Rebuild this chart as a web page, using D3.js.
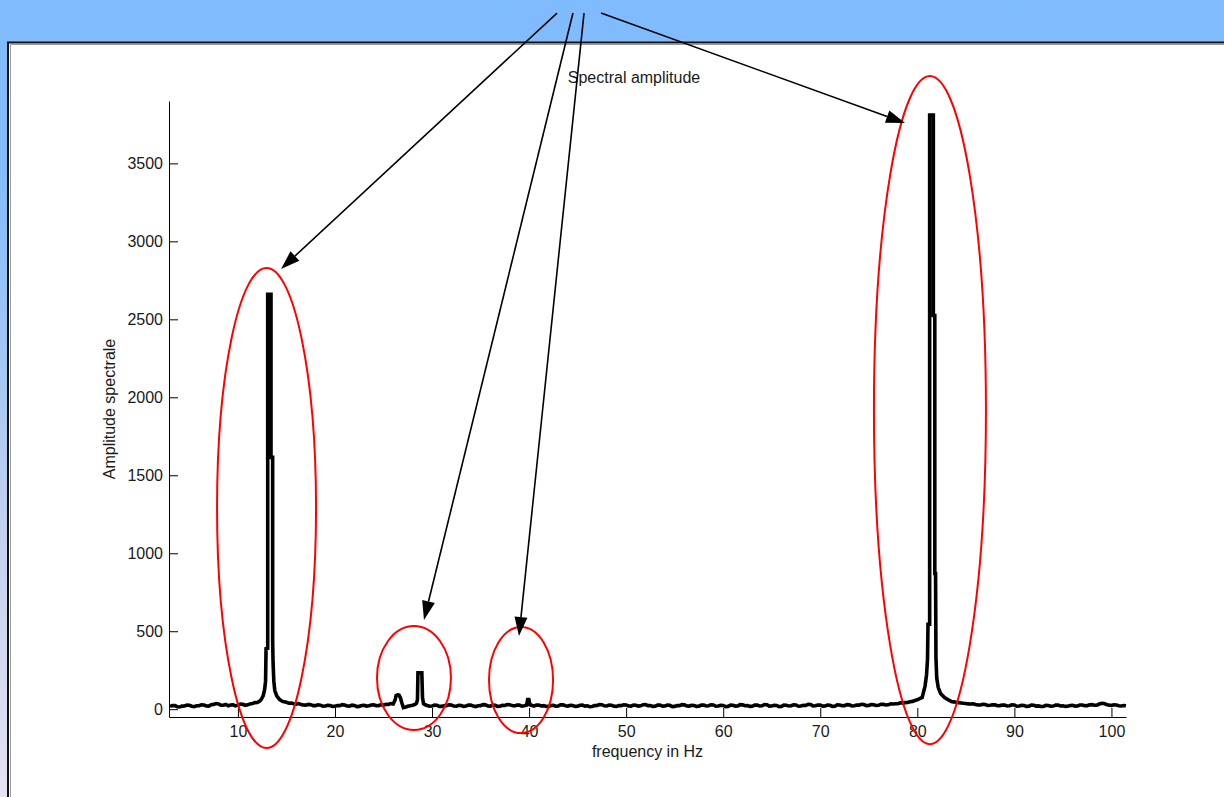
<!DOCTYPE html>
<html>
<head>
<meta charset="utf-8">
<script src="https://cdn.jsdelivr.net/npm/d3@7"></script>
<style>
  html, body { margin: 0; padding: 0; overflow: hidden; background: #fff; }
  svg { display: block; }
</style>
</head>
<body>
<svg id="chart" width="1224" height="797"></svg>
<script>
// ---- data -------------------------------------------------------------
// Spectrum read on a 0.25 Hz grid starting at 3 Hz (one row per hertz)
const gridStartHz = 3;
const gridStepHz = 0.25;
const gridAmplitude = [
  18, 24, 23, 16,   14, 20, 21, 27,   25, 19, 16, 22,   22, 28, 27, 21,   // 3 - 6
  20, 29, 31, 36,   34, 26, 25, 30,   22, 27, 28, 21,   26, 33, 31, 25,   // 7 - 10
  28, 34, 36, 42,   43, 52, 60, 75,   300, 2000, 180, 120,  72, 60, 52, 48, // 11 - 14
  44, 38, 40, 35,   33, 36, 30, 27,   26, 31, 29, 23,   23, 28, 26, 19,   // 15 - 18
  20, 25, 24, 18,   19, 24, 23, 29,   27, 21, 20, 26,   24, 17, 18, 24,   // 19 - 22
  25, 20, 22, 27,   28, 22, 23, 29,   26, 31, 30, 36,   33, 50, 90, 70,   // 23 - 26
  12, 15, 19, 22,   25, 31, 40, 232,  232, 30, 24, 19,  20, 27, 26, 18,   // 27 - 30
  18, 23, 22, 28,   27, 20, 19, 25,   24, 18, 21, 27,   26, 20, 17, 22,   // 31 - 34
  23, 29, 28, 21,   20, 26, 25, 18,   19, 25, 24, 30,   29, 23, 21, 27,   // 35 - 38
  26, 20, 22, 60,   60, 25, 20, 26,   27, 21, 23, 17,   18, 24, 25, 19,   // 39 - 42
  21, 28, 28, 22,   20, 25, 24, 18,   19, 25, 26, 20,   22, 16, 17, 23,   // 43 - 46
  24, 30, 29, 22,   21, 26, 25, 19,   18, 24, 23, 28,   27, 21, 20, 26,   // 47 - 50
  25, 20, 22, 29,   30, 23, 24, 18,   19, 26, 26, 20,   21, 27, 25, 17,   // 51 - 54
  18, 24, 23, 29,   28, 21, 20, 25,   24, 18, 19, 26,   26, 21, 22, 28,   // 55 - 58
  27, 19, 20, 25,   24, 17, 18, 26,   25, 20, 21, 29,   28, 22, 23, 18,   // 59 - 62
  19, 27, 26, 21,   22, 30, 29, 20,   21, 25, 24, 17,   18, 26, 25, 21,   // 63 - 66
  22, 28, 27, 19,   20, 25, 24, 31,   30, 21, 22, 27,   26, 20, 21, 27,   // 67 - 70
  25, 18, 19, 28,   27, 22, 23, 29,   28, 21, 22, 27,   26, 31, 30, 23,   // 71 - 74
  24, 30, 29, 24,   25, 32, 31, 27,   28, 34, 33, 35,   35, 41, 39, 42,   // 75 - 78
  43, 48, 50, 56,   60, 68, 75, 90,   300, 545, 3000, 870,  130, 100, 80, 70, // 79 - 82
  60, 56, 50, 47,   44, 42, 40, 38,   37, 34, 33, 35,   30, 28, 27, 31,   // 83 - 86
  30, 24, 25, 28,   28, 22, 23, 27,   26, 21, 22, 28,   27, 19, 20, 25,   // 87 - 90
  24, 18, 19, 26,   25, 20, 21, 17,   18, 25, 24, 19,   20, 27, 26, 21,   // 91 - 94
  22, 18, 19, 24,   25, 20, 21, 27,   27, 22, 23, 28,   29, 25, 26, 33,   // 95 - 98
  38, 36, 30, 26,   24, 28, 27, 22,   21, 24, 22                          // 99 - 101.5
];

// Finer samples [Hz, amplitude] around each peak
const peak13Hz = [
  [12.4, 62], [12.6, 85], [12.75, 125], [12.85, 180], [12.9, 388], [13.07, 390],
  [13.07, 2660], [13.41, 2660], [13.41, 1615], [13.58, 1615], [13.58, 441],
  [13.62, 300], [13.7, 180], [13.8, 120], [14.0, 85], [14.3, 62], [14.6, 50]
];
const peak27Hz = [
  [26.2, 60], [26.3, 88], [26.45, 92], [26.6, 90], [26.75, 72], [26.9, 38], [27.05, 10], [27.3, 14]
];
const peak29Hz = [
  [28.4, 38], [28.5, 60], [28.55, 234], [28.95, 234], [29.02, 75], [29.12, 35]
];
const peak40Hz = [
  [39.75, 26], [39.85, 62], [39.98, 62], [40.1, 28]
];
const peak81Hz = [
  [80.6, 100], [80.8, 150], [80.95, 220], [81.05, 320], [81.1, 545], [81.27, 545],
  [81.27, 3810], [81.65, 3810], [81.65, 2525], [81.8, 2525], [81.8, 870], [81.88, 870],
  [81.92, 330], [82.0, 200], [82.15, 140], [82.4, 100], [82.8, 75], [83.3, 56]
];

const xTicks = [10, 20, 30, 40, 50, 60, 70, 80, 90, 100];
const yTicks = [0, 500, 1000, 1500, 2000, 2500, 3000, 3500];
const xDomain = [2.9, 101.5];
const yDomain = [-50, 3900];

const titleText = "Spectral amplitude";
const xLabelText = "frequency in Hz";
const yLabelText = "Amplitude spectrale";

// Highlighted regions: centre [Hz, amplitude] and half-extent [Hz, amplitude]
const highlightCentres = [[12.95, 1290], [28.14, 200], [39.17, 187], [81.3, 1918]];
const highlightRadii   = [[5.1, 1539], [3.81, 333], [3.3, 340], [5.77, 2142]];

// Callout arrows: tail and head in [Hz, amplitude]
const calloutTails = [[42.88, 4464], [44.52, 4464], [45.66, 4464], [47.41, 4464]];
const calloutHeads = [[14.44, 2823], [29.17, 572], [38.96, 469], [78.73, 3759]];

// ---- layout -----------------------------------------------------------
const W = 1224, H = 797;
const plot = { left: 169, right: 1126, top: 101, bottom: 717 };
const FONT = "'Liberation Sans', Arial, Helvetica, sans-serif";
const TEXT = "#1a1a1a";

const svg = d3.select("#chart");

// page background
const defs = svg.append("defs");
const grad = defs.append("linearGradient")
  .attr("id", "pageBg").attr("x1", 0).attr("y1", 0).attr("x2", 0).attr("y2", 1);
[["0%", "#7fbbff"], ["25%", "#86bdfb"], ["65%", "#c0d0ee"], ["100%", "#e6e1f3"]]
  .forEach(([o, c]) => grad.append("stop").attr("offset", o).attr("stop-color", c));
svg.append("rect").attr("width", W).attr("height", H).attr("fill", "url(#pageBg)");

// white figure panel
svg.append("rect")
  .attr("x", 8).attr("y", 42.5).attr("width", W).attr("height", H)
  .attr("fill", "#fff").attr("stroke", "#111").attr("stroke-width", 2);
svg.append("path")
  .attr("d", `M10.5,${H} V44.5 H${W}`)
  .attr("fill", "none").attr("stroke", "#9a9a9a").attr("stroke-width", 1);

// scales
const x = d3.scaleLinear().domain(xDomain).range([plot.left, plot.right]);
const y = d3.scaleLinear().domain(yDomain).range([plot.bottom, plot.top]);

// assemble the spectrum: grid samples outside the peak windows + fine peak samples
const peakGroups = [peak13Hz, peak27Hz, peak29Hz, peak40Hz, peak81Hz];
const windows = peakGroups.map(p => [p[0][0], p[p.length - 1][0]]);
const spectrum = [];
gridAmplitude.forEach((a, i) => {
  const f = gridStartHz + i * gridStepHz;
  if (!windows.some(([lo, hi]) => f >= lo && f <= hi)) spectrum.push([f, a]);
});
peakGroups.forEach(p => spectrum.push(...p));
spectrum.sort((a, b) => a[0] - b[0]);

// axes (MATLAB style: ticks pointing inward, no box)
const xAxis = d3.axisBottom(x).tickValues(xTicks).tickFormat(d3.format("d"))
  .tickSizeInner(-9).tickSizeOuter(0).tickPadding(9);
const yAxis = d3.axisLeft(y).tickValues(yTicks).tickFormat(d3.format("d"))
  .tickSizeInner(-9).tickSizeOuter(0).tickPadding(6);

const gx = svg.append("g").attr("transform", `translate(0,${plot.bottom})`).call(xAxis);
const gy = svg.append("g").attr("transform", `translate(${plot.left},0)`).call(yAxis);
[gx, gy].forEach(g => {
  g.selectAll("path, line").attr("stroke", "#000").attr("stroke-width", 1);
  g.selectAll("text").attr("fill", TEXT).style("font-family", FONT).style("font-size", "16px");
});

// spectrum line
svg.append("path")
  .datum(spectrum)
  .attr("fill", "none")
  .attr("stroke", "#000")
  .attr("stroke-width", 3.6)
  .attr("stroke-linejoin", "miter")
  .attr("stroke-miterlimit", 2)
  .attr("d", d3.line().x(d => x(d[0])).y(d => y(d[1])));

// titles
svg.append("text")
  .attr("x", 634).attr("y", 82.5).attr("text-anchor", "middle")
  .attr("fill", TEXT).style("font-family", FONT).style("font-size", "16px")
  .text(titleText);
svg.append("text")
  .attr("x", (plot.left + plot.right) / 2).attr("y", 757).attr("text-anchor", "middle")
  .attr("fill", TEXT).style("font-family", FONT).style("font-size", "16px")
  .text(xLabelText);
svg.append("text")
  .attr("transform", `translate(115,${(plot.top + plot.bottom) / 2}) rotate(-90)`)
  .attr("text-anchor", "middle")
  .attr("fill", TEXT).style("font-family", FONT).style("font-size", "16px")
  .text(yLabelText);

// red highlight ellipses
svg.append("g").selectAll("ellipse")
  .data(highlightCentres.map((c, i) => ({ c, r: highlightRadii[i] })))
  .join("ellipse")
  .attr("cx", d => x(d.c[0]))
  .attr("cy", d => y(d.c[1]))
  .attr("rx", d => x(d.c[0] + d.r[0]) - x(d.c[0]))
  .attr("ry", d => y(d.c[1]) - y(d.c[1] + d.r[1]))
  .attr("fill", "none").attr("stroke", "#ff0000").attr("stroke-width", 2);

// callout arrows
const headLen = 19, headHalf = 6.5;
const arrows = svg.append("g");
calloutTails.forEach((t, i) => {
  const x1 = x(t[0]), y1 = y(t[1]);
  const x2 = x(calloutHeads[i][0]), y2 = y(calloutHeads[i][1]);
  const dx = x2 - x1, dy = y2 - y1, len = Math.hypot(dx, dy);
  const ux = dx / len, uy = dy / len;
  const bx = x2 - ux * headLen, by = y2 - uy * headLen;
  arrows.append("line")
    .attr("x1", x1).attr("y1", y1).attr("x2", bx).attr("y2", by)
    .attr("stroke", "#000").attr("stroke-width", 1.6);
  arrows.append("path")
    .attr("d", `M${x2},${y2} L${bx - uy * headHalf},${by + ux * headHalf} L${bx + uy * headHalf},${by - ux * headHalf} Z`)
    .attr("fill", "#000");
});
</script>
</body>
</html>
